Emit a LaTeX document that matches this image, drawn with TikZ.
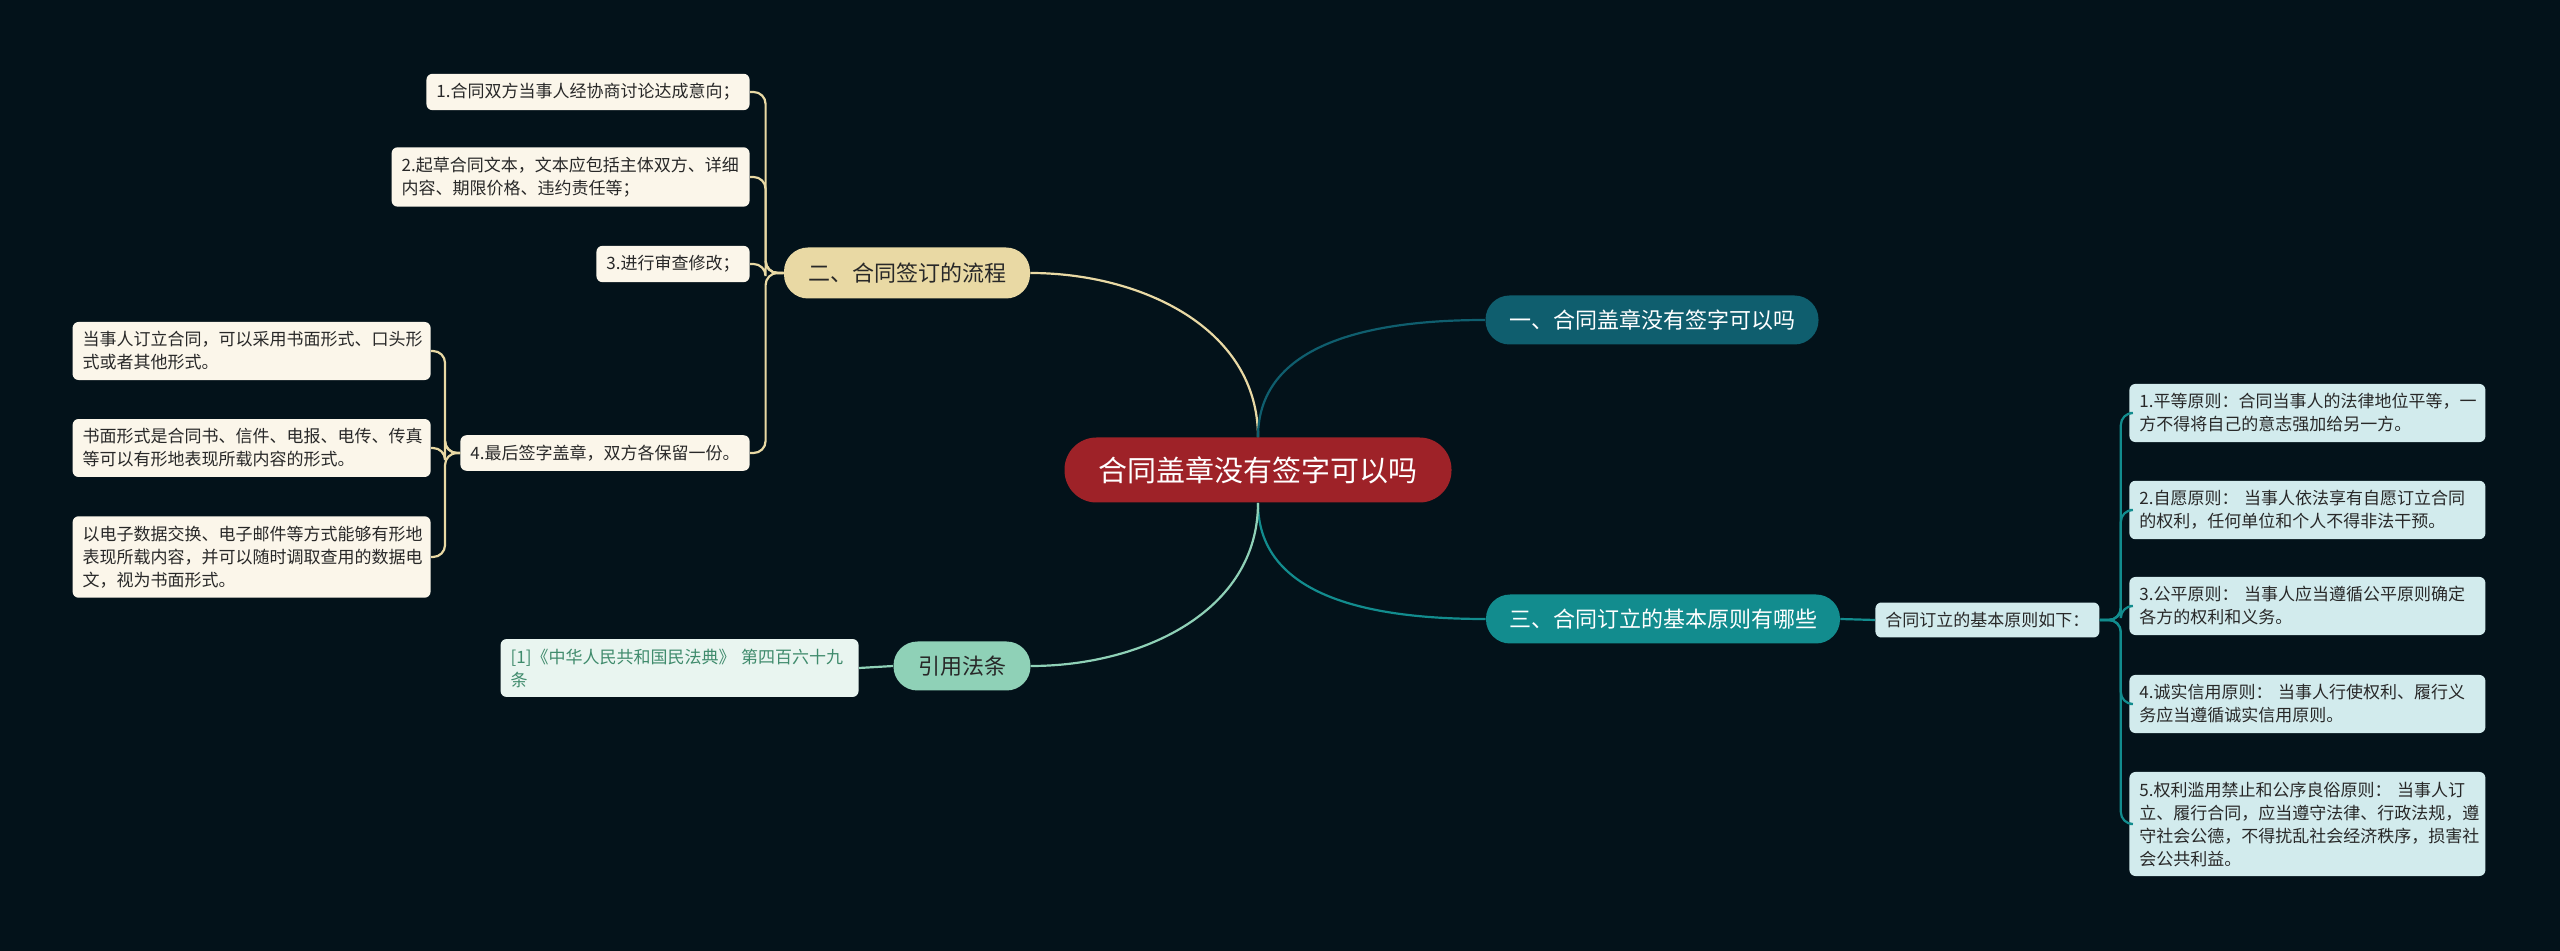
\documentclass[tikz,border=0pt]{standalone}
\usepackage{fontspec}
\setmainfont{Noto Sans CJK SC}
\definecolor{BgDark}{RGB}{3, 18, 26}
\definecolor{RootRed}{RGB}{158, 34, 40}
\definecolor{TealDark}{RGB}{15, 94, 110}
\definecolor{TealMid}{RGB}{18, 140, 142}
\definecolor{SandGold}{RGB}{233, 217, 164}
\definecolor{MintGreen}{RGB}{143, 209, 183}
\definecolor{CreamLeaf}{RGB}{251, 246, 234}
\definecolor{IceLeaf}{RGB}{210, 235, 237}
\definecolor{CiteLeaf}{RGB}{233, 245, 240}
\definecolor{CiteText}{RGB}{63, 139, 108}
\definecolor{InkDark}{RGB}{40, 40, 40}
\usepackage{tikz}
\usetikzlibrary{positioning, calc}

\begin{document}
\begin{tikzpicture}[x=0.5pt, y=-0.5pt, font=\fontsize{8.5}{11.5}\selectfont,
  pill/.style={rectangle, rounded corners=12pt, inner sep=0pt, minimum height=24.5pt, font=\fontsize{11}{13}\selectfont},
  leaf/.style={rectangle, rounded corners=3pt, inner xsep=5pt, inner ysep=4.8pt, align=left, text=InkDark},
  wideleaf/.style={leaf, text width=169pt},
  link/.style={line width=1.1pt}]
\useasboundingbox (0, 0) rectangle (2560, 951);
\fill[BgDark] (0, 0) rectangle (2560, 951);

% centre and main branches
\node[rectangle, rounded corners=16pt, fill=RootRed, text=white, minimum width=193.5pt, minimum height=32.5pt, font=\fontsize{14.5}{16}\selectfont] (root) at (1258, 470) {合同盖章没有签字可以吗};
\node[pill, fill=TealDark, text=white, minimum width=166.5pt] (q1) at (1652, 320) {一、合同盖章没有签字可以吗};
\node[pill, fill=SandGold, text=InkDark, minimum width=123pt, minimum height=25.5pt] (q2) at (907, 273) {二、合同签订的流程};
\node[pill, fill=TealMid, text=white, minimum width=177pt] (q3) at (1663, 619) {三、合同订立的基本原则有哪些};
\node[pill, fill=MintGreen, text=InkDark, minimum width=68.5pt] (law) at (962, 666) {引用法条};
\draw[link, SandGold] (root.north) to[out=90, in=0] (q2.east);
\draw[link, TealDark] (root.north) to[out=90, in=180] (q1.west);
\draw[link, TealMid] (root.south) to[out=-90, in=180] (q3.west);
\draw[link, MintGreen] (root.south) to[out=-90, in=0] (law.east);

% signing steps
\node[leaf, fill=CreamLeaf, anchor=east] (s1) at (750, 92) {1.合同双方当事人经协商讨论达成意向；};
\node[wideleaf, fill=CreamLeaf, anchor=east] (s2) at (750, 177) {2.起草合同文本，文本应包括主体双方、详细\\内容、期限价格、违约责任等；};
\node[leaf, fill=CreamLeaf, anchor=east] (s3) at (750, 264) {3.进行审查修改；};
\node[leaf, fill=CreamLeaf, anchor=east] (s4) at (750, 453) {4.最后签字盖章，双方各保留一份。};
\foreach \n in {s1, s2, s3, s4}
  \draw[link, SandGold, rounded corners=6pt] (q2.west) -- ++(-18, 0) |- (\n.east);

\node[wideleaf, fill=CreamLeaf, anchor=east] (f1) at (431, 351) {当事人订立合同，可以采用书面形式、口头形\\式或者其他形式。};
\node[wideleaf, fill=CreamLeaf, anchor=east] (f2) at (431, 448) {书面形式是合同书、信件、电报、电传、传真\\等可以有形地表现所载内容的形式。};
\node[wideleaf, fill=CreamLeaf, anchor=east] (f3) at (431, 557) {以电子数据交换、电子邮件等方式能够有形地\\表现所载内容，并可以随时调取查用的数据电\\文，视为书面形式。};
\foreach \n in {f1, f2, f3}
  \draw[link, SandGold, rounded corners=6pt] (s4.west) -- ++(-15, 0) |- (\n.east);

% principles
\node[leaf, fill=IceLeaf, anchor=west] (rule) at (1875, 620) {合同订立的基本原则如下：};
\draw[link, TealMid] (q3.east) -- (rule.west);
\foreach \i/\y/\t in {1/413/{1.平等原则：合同当事人的法律地位平等，一\\方不得将自己的意志强加给另一方。},%
    2/510/{2.自愿原则： 当事人依法享有自愿订立合同\\的权利，任何单位和个人不得非法干预。},%
    3/606/{3.公平原则： 当事人应当遵循公平原则确定\\各方的权利和义务。},%
    4/704/{4.诚实信用原则： 当事人行使权利、履行义\\务应当遵循诚实信用原则。},%
    5/824/{5.权利滥用禁止和公序良俗原则： 当事人订\\立、履行合同，应当遵守法律、行政法规，遵\\守社会公德，不得扰乱社会经济秩序，损害社\\会公共利益。}} {
  \node[leaf, fill=IceLeaf, anchor=west, text width=168pt] (p\i) at (2129, \y) {\t};
  \draw[link, TealMid, rounded corners=6pt] (rule.east) -- ++(21, 0) |- (p\i.west);
}

% citation
\node[wideleaf, fill=CiteLeaf, text=CiteText, anchor=east] (ref) at (859, 668) {[1]《中华人民共和国民法典》 第四百六十九\\条};
\draw[link, MintGreen] (law.west) -- (ref.east);
\end{tikzpicture}
\end{document}
